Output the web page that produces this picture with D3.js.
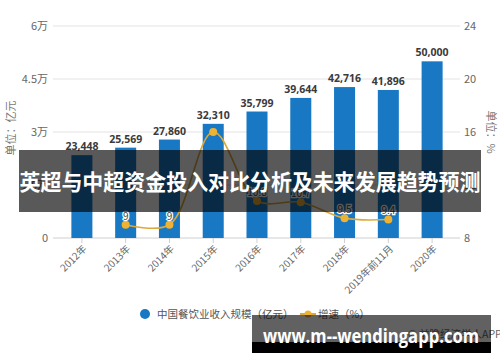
<!DOCTYPE html>
<html><head><meta charset="utf-8">
<script src="https://cdn.jsdelivr.net/npm/d3@7"></script>
<style>html,body{margin:0;padding:0;background:#fff;}svg{display:block;}</style>
</head><body>
<svg id="c" width="500" height="362"></svg>
<script>
const categories = ["2012年","2013年","2014年","2015年","2016年","2017年","2018年","2019年前11月","2020年"];
const revenue = [23448,25569,27860,32310,35799,39644,42716,41896,50000];
const growth = [null,9,9,16.0,10.8,10.7,9.5,9.4,null];
const growthLabels = [null,"9","9",null,"10.8","10.7","9.5","9.4",null];
const leftTicks = [0,15000,30000,45000,60000];
const leftTickLabels = ["0","1.5万","3万","4.5万","6万"];
const rightTicks = [8,12,16,20,24];
const legendNames = ["中国餐饮业收入规模（亿元）","增速（%）"];
const leftTitle = "单位：亿元";
const rightTitle = "单位：%";
const bannerTitle = "英超与中超资金投入对比分析及未来发展趋势预测";
const footerText = "www.m--wendingapp.com";
const sourceText = "© 前瞻经济学人APP";

const svg = d3.select("#c");
const font = "'Noto Sans CJK SC','Noto Sans',sans-serif";
const x = d3.scaleBand().domain(categories).range([60,454]).paddingInner(0.52).paddingOuter(0.26);
const yL = d3.scaleLinear().domain([0,60000]).range([238,26]);
const yR = d3.scaleLinear().domain([8,24]).range([238,26]);

// grid
const gl = svg.append("g");
gl.selectAll("line").data(leftTicks).join("line")
  .attr("x1",53).attr("x2",460).attr("y1",d=>yL(d)).attr("y2",d=>yL(d))
  .attr("stroke",d=>d===0?"#cfcfcf":"#e3e3e3").attr("stroke-width",1);

// left axis labels
svg.append("g").selectAll("text").data(leftTicks).join("text")
  .attr("x",48).attr("y",d=>yL(d)).attr("dy","0.35em").attr("text-anchor","end")
  .attr("font-family",font).attr("font-size",11).attr("fill","#666")
  .text((d,i)=>leftTickLabels[i]);
// right axis labels
svg.append("g").selectAll("text").data(rightTicks).join("text")
  .attr("x",464).attr("y",d=>yR(d)).attr("dy","0.35em").attr("text-anchor","start")
  .attr("font-family",font).attr("font-size",11).attr("fill","#666")
  .text(d=>d);

// axis titles
svg.append("text").attr("transform","translate(15,128) rotate(-90)").attr("text-anchor","middle")
  .attr("font-family",font).attr("font-size",11).attr("fill","#777").text(leftTitle);
svg.append("text").attr("transform","translate(487,132) rotate(90)").attr("text-anchor","middle")
  .attr("font-family",font).attr("font-size",11).attr("fill","#777").text(rightTitle);

// x ticks & labels
const cx = d=>x(d)+x.bandwidth()/2;
svg.append("g").selectAll("line").data(categories).join("line")
  .attr("x1",cx).attr("x2",cx).attr("y1",238).attr("y2",243).attr("stroke","#cfcfcf");
svg.append("g").selectAll("text").data(categories).join("text")
  .attr("transform",d=>`translate(${cx(d)+3},${247}) rotate(-45)`)
  .attr("text-anchor","end").attr("dy","0.35em")
  .attr("font-family",font).attr("font-size",10).attr("fill","#666").text(d=>d);

// bars
svg.append("g").selectAll("rect").data(revenue).join("rect")
  .attr("x",(d,i)=>x(categories[i])).attr("width",x.bandwidth())
  .attr("y",d=>yL(d)).attr("height",d=>yL(0)-yL(d)).attr("fill","#1878c4");
svg.append("g").selectAll("text").data(revenue).join("text")
  .attr("x",(d,i)=>cx(categories[i])).attr("y",d=>yL(d)-5).attr("text-anchor","middle")
  .attr("font-family","'Open Sans','Noto Sans',sans-serif").attr("font-weight","bold")
  .attr("font-size",10.5).attr("fill","#3a3a3a").text(d=>d3.format(",")(d));

// growth line
const gpts = growth.map((v,i)=>({v,c:categories[i],l:growthLabels[i]})).filter(p=>p.v!==null);
const line = d3.line().x(p=>cx(p.c)).y(p=>yR(p.v)).curve(d3.curveCatmullRom.alpha(0.5));
svg.append("path").attr("d",line(gpts)).attr("fill","none").attr("stroke","#dcaa3c").attr("stroke-width",1.6);
svg.append("g").selectAll("circle").data(gpts).join("circle")
  .attr("cx",p=>cx(p.c)).attr("cy",p=>yR(p.v)).attr("r",4).attr("fill","#f0b232");
svg.append("g").selectAll("text").data(gpts.filter(p=>p.l)).join("text")
  .attr("x",p=>cx(p.c)).attr("y",p=>yR(p.v)-5).attr("text-anchor","middle")
  .attr("font-family",font).attr("font-size",10).attr("fill","#444")
  .attr("stroke","#fff").attr("stroke-width",2.5).attr("paint-order","stroke").text(p=>p.l);

// legend
svg.append("circle").attr("cx",145).attr("cy",314).attr("r",5).attr("fill","#1878c4");
svg.append("text").attr("x",157).attr("y",314).attr("dy","0.35em")
  .attr("font-family",font).attr("font-size",10.5).attr("fill","#555").text(legendNames[0]);
svg.append("line").attr("x1",300).attr("x2",316).attr("y1",314).attr("y2",314).attr("stroke","#dcaa3c").attr("stroke-width",2);
svg.append("circle").attr("cx",308).attr("cy",314).attr("r",3.5).attr("fill","#f0b232");
svg.append("text").attr("x",318).attr("y",314).attr("dy","0.35em")
  .attr("font-family",font).attr("font-size",10.5).attr("fill","#555").text(legendNames[1]);

// source text
svg.append("text").attr("x",408).attr("y",334).attr("dy","0.35em")
  .attr("font-family",font).attr("font-size",10.5).attr("fill","#666").text(sourceText);

// title banner
svg.append("rect").attr("x",19).attr("y",150).attr("width",462).attr("height",62)
  .attr("fill","rgba(0,0,0,0.65)");
svg.append("text").attr("x",250).attr("y",182).attr("dy","0.35em").attr("text-anchor","middle")
  .attr("font-family",font).attr("font-weight","bold").attr("font-size",22).attr("fill","#fff")
  .attr("textLength",461).attr("lengthAdjust","spacingAndGlyphs").text(bannerTitle);

// footer banner
svg.append("rect").attr("x",252).attr("y",315).attr("width",239).attr("height",27).attr("fill","rgba(0,0,0,0.62)");
svg.append("rect").attr("x",252).attr("y",342).attr("width",239).attr("height",11).attr("fill","#000");
svg.append("text").attr("x",263).attr("y",336).attr("dy","0.35em")
  .attr("font-family","'Open Sans','DejaVu Sans',sans-serif").attr("font-weight","bold").attr("font-size",19).attr("fill","#fff")
  .attr("textLength",216).attr("lengthAdjust","spacingAndGlyphs").text(footerText);
</script>
</body></html>
